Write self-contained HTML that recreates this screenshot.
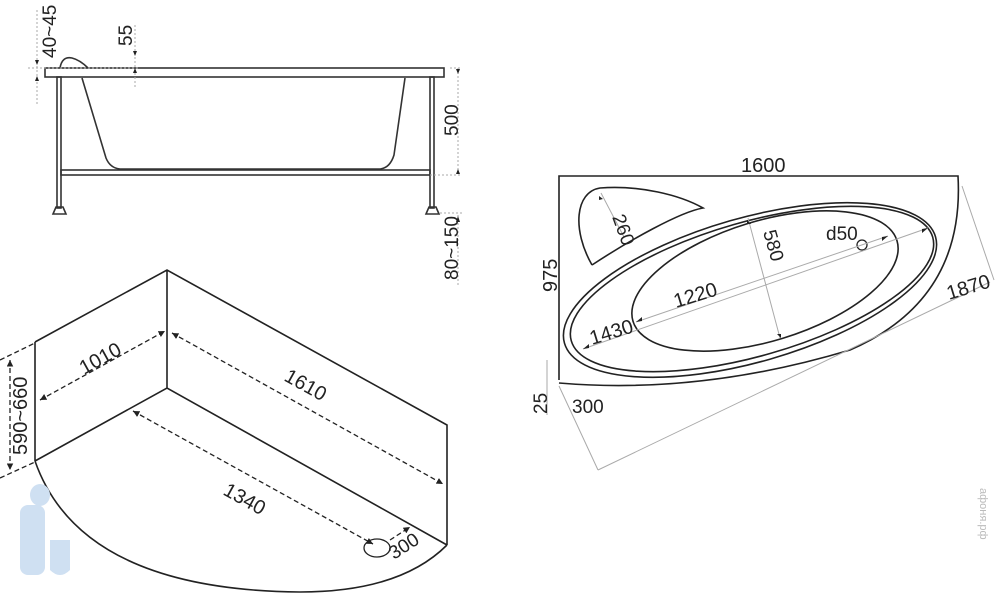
<!DOCTYPE html>
<html><head><style>html,body{margin:0;padding:0;background:#fff}svg{display:block}text{font-family:"Liberation Sans",sans-serif;fill:#222}</style></head>
<body>
<svg width="1000" height="593" viewBox="0 0 1000 593" xmlns="http://www.w3.org/2000/svg">
<defs>
<marker id="a" viewBox="0 0 10 10" refX="10" refY="5" markerWidth="5" markerHeight="5" orient="auto-start-reverse"><path d="M0,0L10,5L0,10z" fill="#222"/></marker>
</defs>
<g stroke="#333" fill="none" stroke-width="1.6">
<rect x="45" y="68" width="399" height="9"/>
<path d="M60,68 Q62,56 72,58 Q80,60 88,68"/>
<path d="M82,78 L106,158 Q110,168 120,169 L380,169 Q390,168 394,155 L405,78"/>
<rect x="57" y="77" width="4" height="131"/><rect x="430" y="77" width="4" height="131"/>
<rect x="61" y="170" width="369" height="5"/>
<path d="M53,214 L56,207 L63,207 L66,214Z M426,214 L429,207 L436,207 L439,214Z"/>
</g>
<g stroke="#aaa" stroke-width="1" stroke-dasharray="2,2" fill="none">
<path d="M37,10 V105 M28,68 H140 M135,25 V88 M450,68 H462 M430,175 H462 M458,68 V175 M458,215 V285 M440,213 H462"/>
</g>
<g fill="#222"><path d="M35,60l2,5l2,-5z M35,81l2,-5l2,5z M133,51l2,5l2,-5z M133,73l2,-5l2,5z M456,69l2,5l2,-5z M456,174l2,-5l2,5z M456,222l2,-6l2,6z"/></g>
<text transform="translate(56,58) rotate(-90)" font-size="19">40~45</text>
<text transform="translate(132,46) rotate(-90)" font-size="19">55</text>
<text transform="translate(458,136) rotate(-90)" font-size="19">500</text>
<text transform="translate(458,280) rotate(-90)" font-size="19">80~150</text>
<g stroke="#222" fill="none" stroke-width="1.6">
<path d="M35,342 L167,270 L447,425 L447,545 M35,342 L35,461 M167,270 V388 M35,461 L167,388 L447,545"/>
<path d="M35,461 Q80,590 300,592 Q400,592 447,545"/>
<ellipse cx="377" cy="548" rx="13" ry="9" stroke-width="1.3"/>
</g>
<g stroke="#222" stroke-width="1.3" stroke-dasharray="5,3" fill="none">
<path d="M40,400 L165,331" marker-start="url(#a)" marker-end="url(#a)"/>
<path d="M172,333 L443,484" marker-start="url(#a)" marker-end="url(#a)"/>
<path d="M133,411 L373,544" marker-start="url(#a)" marker-end="url(#a)"/>
<path d="M390,540 L410,527" marker-end="url(#a)"/>
<path d="M10,360 V470" marker-start="url(#a)" marker-end="url(#a)"/>
<path d="M0,360 L35,343 M0,478 L35,462"/>
</g>
<text transform="translate(84,375) rotate(-29)" font-size="20">1010</text>
<text transform="translate(283,380) rotate(29)" font-size="20">1610</text>
<text transform="translate(222,494) rotate(29)" font-size="20">1340</text>
<text transform="translate(394,560) rotate(-33)" font-size="19">300</text>
<text transform="translate(27,455) rotate(-90)" font-size="20">590~660</text>
<g stroke="#222" fill="none" stroke-width="1.6">
<path d="M559,380 V176 H958 Q965,300 850,350 Q700,395 559,383"/>
<ellipse cx="750" cy="290" rx="193" ry="72" transform="rotate(-16 750 290)"/>
<ellipse cx="752" cy="289" rx="188" ry="67" transform="rotate(-16 752 289)"/>
<ellipse cx="765" cy="281" rx="138" ry="60" transform="rotate(-17 765 281)"/>
<path d="M592,265 C572,230 575,192 600,188 C640,185 680,195 703,208 C680,212 630,240 592,265"/>
<circle cx="862" cy="245" r="5" stroke-width="1.3"/>
</g>
<g stroke="#aaa" stroke-width="1" fill="none">
<path d="M583,349 L928,228 M636,322 L888,236 M748,218 L780,338 M601,193 L624,237 M962,186 L994,280 M559,386 L598,470 M598,470 L990,282 M547,360 V415"/>
</g>
<g fill="#222"><path d="M583,349l6,-5l0,4z M928,228l-6,5l0,-4z M636,322l6,-5l0,4z M888,236l-6,5l0,-4z M747,220l4,4l-4,0z M781,338l-4,-4l4,0z M599,196l4,3l-4,1z"/></g>
<text x="741" y="172" font-size="20">1600</text>
<text transform="translate(557,292) rotate(-90)" font-size="20">975</text>
<text transform="translate(612,217) rotate(70)" font-size="19">260</text>
<text transform="translate(763,232) rotate(74)" font-size="19">580</text>
<text x="826" y="240" font-size="19">d50</text>
<text transform="translate(676,308) rotate(-17)" font-size="20">1220</text>
<text transform="translate(592,345) rotate(-17)" font-size="20">1430</text>
<text transform="translate(949,300) rotate(-17)" font-size="20">1870</text>
<text transform="translate(547,414) rotate(-90)" font-size="19">25</text>
<text x="572" y="413" font-size="19">300</text>
<text transform="translate(980,488) rotate(90)" font-size="11" style="fill:#bbb">афоня.рф</text>
<g fill="#cfe0f2"><ellipse cx="40" cy="495" rx="10" ry="11"/><rect x="20" y="505" width="25" height="70" rx="8"/><path d="M50,540 h20 v30 q-10,10 -20,0z"/></g>
</svg>
</body></html>
